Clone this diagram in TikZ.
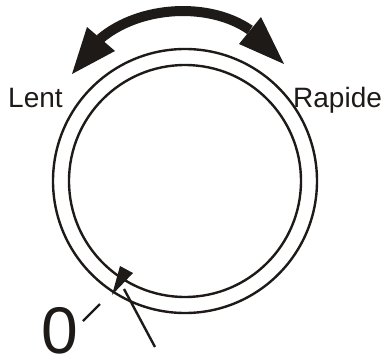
\documentclass[tikz,border=0pt]{standalone}
\usepackage{fontspec}
\setmainfont{Liberation Sans}
\usetikzlibrary{positioning}
\definecolor{ink}{RGB}{30,26,24}

\begin{document}
\begin{tikzpicture}[x=1pt,y=-1pt,
  ring/.style={draw=ink,line width=2.4pt},
  lbl/.style={font=\fontsize{28}{30}\selectfont,text=ink,inner sep=0pt,anchor=base west},
  big/.style={font=\fontsize{66}{68}\selectfont,text=ink,inner sep=0pt,text depth=0pt,anchor=base west},
  head/.style={fill=ink,draw=none},
  stroke/.style={draw=ink,line width=2.4pt}
]
\useasboundingbox (0,0) rectangle (388,356);
\coordinate (c) at (185,181);

% dial
\draw[ring] (c) circle[radius=132];
\draw[ring] (c) circle[radius=116];

% speed arrow
\draw[draw=ink,line width=10pt] (100,39) .. controls (140,5) and (210,2) .. (250,30);
\fill[head] (87,27) -- (115,51) -- (72,74) -- cycle;
\fill[head] (261,17) -- (239,44) -- (284,64) -- cycle;

\node[lbl] (slow) at (8,107) {Lent};
\node[lbl] (fast) at (293,107) {Rapide};
\node[big] (zero) at (41,353) {0};

% pointer
\coordinate (pfoot) at (155,347);
\coordinate (ptip) at (124,289);
\draw[stroke] (pfoot) -- (ptip);
\fill[head] (120,266) -- (133,273) -- (112,295) -- cycle;
\coordinate (tka) at (83,321);
\coordinate (tkb) at (100,304);
\draw[stroke] (tka) -- (tkb);
\end{tikzpicture}
\end{document}
